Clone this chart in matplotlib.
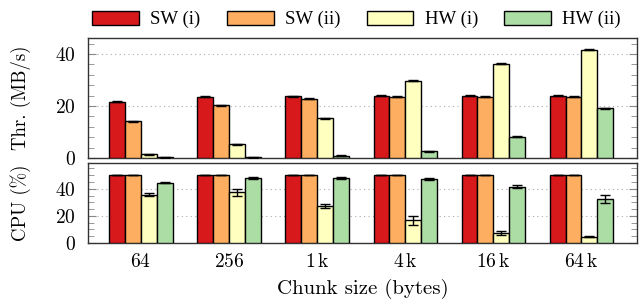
import numpy as np
import matplotlib
matplotlib.use("Agg")
import matplotlib.pyplot as plt
from matplotlib.ticker import MultipleLocator

plt.rcParams['font.family'] = ['cmr10', 'DejaVu Serif']
plt.rcParams['mathtext.fontset'] = 'cm'
plt.rcParams['axes.formatter.use_mathtext'] = True
plt.rcParams['font.size'] = 13.5

# data
chunks = [r'$64$', r'$256$', r'$1\,\mathrm{k}$', r'$4\,\mathrm{k}$', r'$16\,\mathrm{k}$', r'$64\,\mathrm{k}$']
series = ['SW (i)', 'SW (ii)', 'HW (i)', 'HW (ii)']
colors = ['#d7191c', '#fdae61', '#ffffbf', '#abdda4']

thr_sw1 = [21.7, 23.5, 23.8, 24.0, 24.0, 24.0]
thr_sw2 = [14.2, 20.3, 22.8, 23.6, 23.6, 23.6]
thr_hw1 = [1.4, 5.3, 15.3, 29.7, 36.3, 41.7]
thr_hw2 = [0.3, 0.2, 0.8, 2.6, 8.1, 19.2]
thr_err = [0.2, 0.2, 0.2, 0.2, 0.2, 0.2]

cpu_sw1 = [50, 50, 50, 50, 50, 50]
cpu_sw2 = [50, 50, 50, 50, 50, 50]
cpu_hw1 = [35.6, 37.3, 27.3, 16.8, 7.3, 4.6]
cpu_hw2 = [44.6, 47.8, 47.8, 47.3, 41.5, 32.4]
cpu_sw1_err = [0.2, 0.2, 0.2, 0.2, 0.2, 0.2]
cpu_sw2_err = [0.2, 0.2, 0.2, 0.2, 0.2, 0.2]
cpu_hw1_err = [1.0, 2.6, 1.2, 3.3, 1.3, 0.5]
cpu_hw2_err = [0.7, 0.8, 0.6, 1.0, 1.0, 3.0]

fig = plt.figure(figsize=(6.43, 2.99), dpi=100)
ax1 = fig.add_axes([88/643, 141/299, 549/643, 120/299])
ax2 = fig.add_axes([88/643, 56/299, 549/643, 80/299])

x = np.arange(len(chunks))
w = 0.18
offs = [-1.5, -0.5, 0.5, 1.5]

thr = [thr_sw1, thr_sw2, thr_hw1, thr_hw2]
cpu = [cpu_sw1, cpu_sw2, cpu_hw1, cpu_hw2]
cpu_err = [cpu_sw1_err, cpu_sw2_err, cpu_hw1_err, cpu_hw2_err]

ekw = dict(elinewidth=1, capthick=1, ecolor='black')
for i in range(4):
    ax1.bar(x + offs[i]*w, thr[i], w, color=colors[i], edgecolor='black',
            linewidth=1, label=series[i], yerr=thr_err, capsize=3.5,
            error_kw=ekw, zorder=3)
    ax2.bar(x + offs[i]*w, cpu[i], w, color=colors[i], edgecolor='black',
            linewidth=1, yerr=cpu_err[i], capsize=3.5, error_kw=ekw, zorder=3)

for ax in (ax1, ax2):
    ax.set_xlim(-0.6, 5.63)
    ax.grid(axis='y', which='major', linestyle=(0, (1, 3)), color='#aaaaaa', linewidth=0.8, zorder=0)
    ax.tick_params(axis='y', which='both', direction='in', left=True, right=True,
                   color='#888888', labelsize=14, pad=9)
    ax.tick_params(axis='y', which='major', length=6)
    ax.tick_params(axis='y', which='minor', length=4)
    for s in ax.spines.values():
        s.set_color('#333333')
        s.set_linewidth(1)

ax1.set_ylim(0, 46.2)
ax1.yaxis.set_major_locator(MultipleLocator(20))
ax1.yaxis.set_minor_locator(MultipleLocator(4))
ax1.set_xticks([])
ax1.set_ylabel('Thr. (MB/s)')
ax1.yaxis.set_label_coords(-0.103, 0.5)

ax2.set_ylim(0, 59)
ax2.yaxis.set_major_locator(MultipleLocator(20))
ax2.yaxis.set_minor_locator(MultipleLocator(5))
ax2.set_xticks(x)
ax2.set_xticklabels(chunks)
ax2.tick_params(axis='x', length=0, pad=7, labelsize=14)
ax2.set_ylabel('CPU (%)')
ax2.yaxis.set_label_coords(-0.103, 0.5)
ax2.set_xlabel('Chunk size (bytes)', labelpad=6, fontsize=15)

fig.legend(loc='center left', bbox_to_anchor=(92/643, 1 - 19.5/299), ncol=4,
           frameon=False, prop={'family': 'Liberation Serif', 'size': 13.5},
           handlelength=2.5, handleheight=0.8,
           handletextpad=0.6, columnspacing=1.4, borderpad=0, borderaxespad=0)

fig.savefig('out.png', dpi=100)
